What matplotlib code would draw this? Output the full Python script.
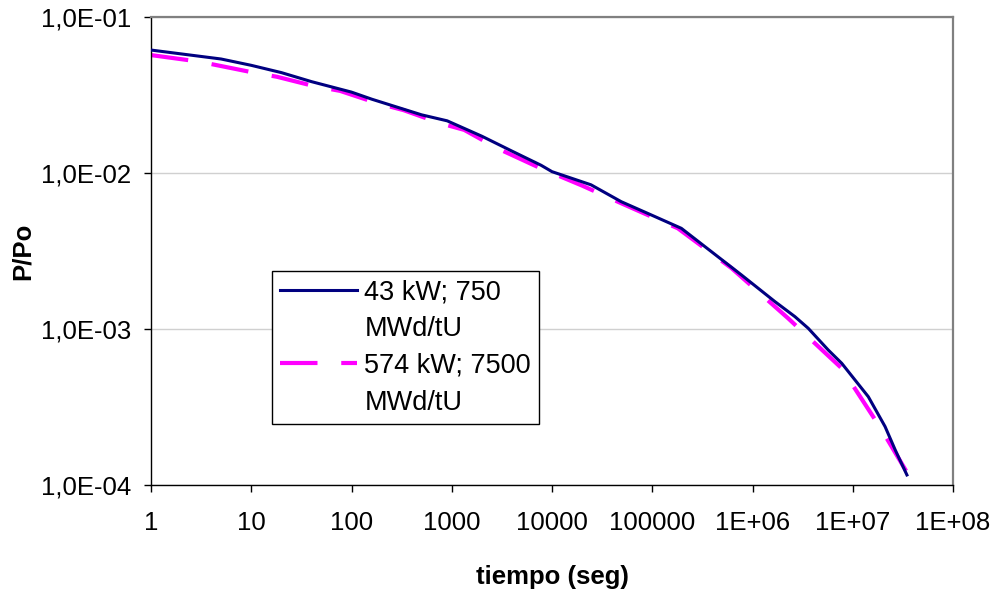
import matplotlib
matplotlib.use("Agg")
import matplotlib.pyplot as plt
from matplotlib.lines import Line2D

plt.rcParams['font.family'] = ['Liberation Sans', 'DejaVu Sans']

# serie 1: 43 kW; 750 MWd/tU
t_43 = [1, 2, 5, 10, 20, 40, 100, 160, 500, 900, 2000, 4000, 7800, 10000,
        24500, 49000, 98000, 195000, 776000, 1.67e6, 2.65e6, 3.6e6, 5.7e6,
        7.76e6, 1.43e7, 2.1e7, 2.65e7, 3.47e7]
p_43 = [0.0614, 0.058, 0.0538, 0.049, 0.044, 0.0385, 0.033, 0.0297, 0.0236,
        0.0216, 0.0172, 0.0138, 0.0112, 0.0102, 0.0084, 0.00655, 0.00538,
        0.00442, 0.00222, 0.0015, 0.0012, 0.00101, 0.000733, 0.000603,
        0.000368, 0.000237, 0.000168, 0.000116]

# serie 2: 574 kW; 7500 MWd/tU
t_574 = [1, 3, 10.6, 18, 42, 77, 181, 330, 776, 1330, 2850, 7760, 10000,
         20000, 49000, 180000, 620000, 2.27e6, 7.76e6, 1.9e7, 3.6e7]
p_574 = [0.057, 0.0518, 0.044, 0.0414, 0.0361, 0.0336, 0.028, 0.0253, 0.0208,
         0.0189, 0.0144, 0.0107, 0.0100, 0.0083, 0.0064, 0.00442, 0.00245,
         0.00117, 0.00056, 0.000231, 0.000116]

labels = ['43 kW; 750', 'MWd/tU', '574 kW; 7500', 'MWd/tU']

x_ticks = [1, 10, 100, 1000, 10000, 100000, 1e6, 1e7, 1e8]
x_ticklabels = ['1', '10', '100', '1000', '10000', '100000', '1E+06', '1E+07', '1E+08']
y_ticks = [1e-4, 1e-3, 1e-2, 1e-1]
y_ticklabels = ['1,0E-04', '1,0E-03', '1,0E-02', '1,0E-01']

fig = plt.figure(figsize=(9.96, 5.96), dpi=100)
ax = fig.add_axes([151 / 996, 1 - 485 / 596, (953 - 151) / 996, (485 - 17) / 596])

ax.plot(t_43, p_43, color='#000080', lw=2.2, zorder=3)
ax.plot(t_574, p_574, color='#FF00FF', lw=3, dashes=(9, 5.7), zorder=2)

ax.set_xscale('log')
ax.set_yscale('log')
ax.set_xlim(1, 1e8)
ax.set_ylim(1e-4, 1e-1)
ax.set_xticks(x_ticks)
ax.set_xticklabels(x_ticklabels)
ax.set_yticks(y_ticks)
ax.set_yticklabels(y_ticklabels)
ax.minorticks_off()
ax.tick_params(direction='out', length=5, width=1, labelsize=18.5)
ax.tick_params(axis='x', pad=14)
ax.tick_params(axis='y', pad=9)

ax.grid(axis='y', color='#d0d0d0', lw=1)
ax.set_axisbelow(True)

for s in ['top', 'right']:
    ax.spines[s].set_color('#808080')
    ax.spines[s].set_linewidth(1.6)
for s in ['left', 'bottom']:
    ax.spines[s].set_color('black')
    ax.spines[s].set_linewidth(1)

ax.set_xlabel('tiempo (seg)', fontsize=18.5, fontweight='bold', labelpad=21)
ax.set_ylabel('P/Po', fontsize=18.5, fontweight='bold', labelpad=5)

handles = [
    Line2D([], [], color='#000080', lw=2.2),
    Line2D([], [], color='none'),
    Line2D([], [], color='#FF00FF', lw=3, dashes=(9, 5.7)),
    Line2D([], [], color='none'),
]
leg = ax.legend(handles, labels, loc='upper left',
                bbox_to_anchor=(272 / 996, 1 - 271 / 596), bbox_transform=fig.transFigure,
                borderaxespad=0, fontsize=19.5, fancybox=False, framealpha=1,
                edgecolor='black', handlelength=2.85, handletextpad=0.26,
                borderpad=0.3, labelspacing=0.4)
leg.get_frame().set_linewidth(1)

fig.savefig('out.png', dpi=100)
